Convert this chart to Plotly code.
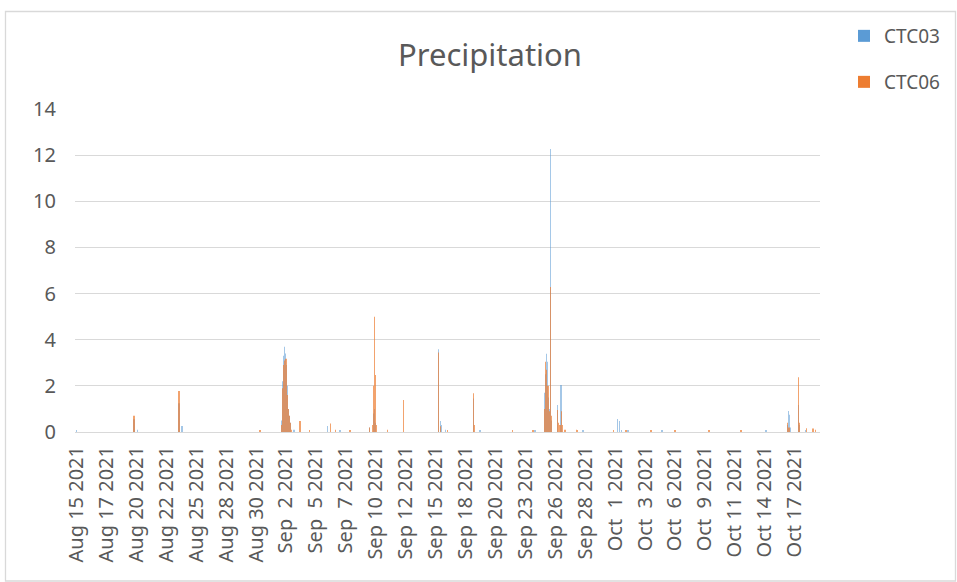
import pandas as pd
import plotly.graph_objects as go

# ---------------- data ----------------
tick_labels = ["Aug 15 2021", "Aug 17 2021", "Aug 20 2021", "Aug 22 2021", "Aug 25 2021",
               "Aug 28 2021", "Aug 30 2021", "Sep  2 2021", "Sep  5 2021", "Sep  7 2021",
               "Sep 10 2021", "Sep 12 2021", "Sep 15 2021", "Sep 18 2021", "Sep 20 2021",
               "Sep 23 2021", "Sep 26 2021", "Sep 28 2021", "Oct  1 2021", "Oct  3 2021",
               "Oct  6 2021", "Oct  9 2021", "Oct 11 2021", "Oct 14 2021", "Oct 17 2021"]

ctc03_time = [
    "2021-08-15 02:00", "2021-08-20 03:00", "2021-08-20 11:00", "2021-08-24 02:00", "2021-08-24 09:00",
    "2021-09-02 03:00", "2021-09-02 04:00", "2021-09-02 05:00", "2021-09-02 06:00", "2021-09-02 07:00",
    "2021-09-02 08:00", "2021-09-02 09:00", "2021-09-02 10:00", "2021-09-02 11:00", "2021-09-02 12:00",
    "2021-09-02 13:00", "2021-09-02 14:00", "2021-09-02 15:00", "2021-09-02 16:00", "2021-09-02 17:00",
    "2021-09-02 18:00", "2021-09-02 19:00", "2021-09-02 20:00", "2021-09-02 21:00", "2021-09-02 22:00",
    "2021-09-03 05:00", "2021-09-06 04:00", "2021-09-07 06:00", "2021-09-09 20:00",
    "2021-09-10 04:00", "2021-09-10 05:00", "2021-09-10 06:00", "2021-09-10 07:00", "2021-09-10 08:00",
    "2021-09-10 09:00", "2021-09-15 21:00", "2021-09-16 02:00", "2021-09-16 03:00", "2021-09-16 12:00",
    "2021-09-18 23:00", "2021-09-19 13:00", "2021-09-24 09:00",
    "2021-09-25 05:00", "2021-09-25 06:00", "2021-09-25 07:00", "2021-09-25 08:00", "2021-09-25 09:00",
    "2021-09-25 10:00", "2021-09-25 11:00", "2021-09-25 12:00", "2021-09-25 13:00", "2021-09-25 14:00",
    "2021-09-25 15:00", "2021-09-25 17:00", "2021-09-25 18:00", "2021-09-25 19:00",
    "2021-09-26 08:00", "2021-09-26 09:00", "2021-09-26 16:00", "2021-09-26 17:00",
    "2021-09-28 14:00", "2021-10-01 15:00", "2021-10-01 19:00", "2021-10-02 00:00", "2021-10-02 13:00",
    "2021-10-05 13:00", "2021-10-14 16:00", "2021-10-16 13:00", "2021-10-16 15:00", "2021-10-16 17:00",
    "2021-10-16 20:00", "2021-10-17 13:00", "2021-10-17 14:00", "2021-10-18 04:00",
]
ctc03_mm = [
    0.08, 0.55, 0.10, 1.25, 0.26,
    0.5, 0.9, 1.5, 2.2, 3.0,
    3.3, 3.7, 3.4, 3.2, 2.9,
    2.8, 2.0, 1.2, 1.0, 0.9,
    0.7, 0.6, 0.4, 0.2, 0.1,
    0.10, 0.26, 0.05, 0.20,
    0.6, 0.8, 1.0, 0.6, 0.4,
    0.1, 3.59, 0.48, 0.30, 0.10,
    1.45, 0.05, 0.05,
    0.4, 1.7, 2.5, 1.2, 3.39,
    2.0, 3.05, 1.5, 1.2, 0.8,
    1.0, 0.5, 12.27, 0.5,
    1.17, 0.5, 2.04, 0.6,
    0.05, 0.56, 0.48, 0.08, 0.08,
    0.05, 0.05, 0.30, 0.91, 0.75,
    0.20, 1.17, 0.30, 0.05,
]

ctc06_time = [
    "2021-08-20 03:00", "2021-08-24 02:00", "2021-08-24 03:00", "2021-08-31 05:00",
    "2021-09-02 03:00", "2021-09-02 04:00", "2021-09-02 05:00", "2021-09-02 06:00", "2021-09-02 07:00",
    "2021-09-02 08:00", "2021-09-02 09:00", "2021-09-02 10:00", "2021-09-02 11:00", "2021-09-02 12:00",
    "2021-09-02 13:00", "2021-09-02 14:00", "2021-09-02 15:00", "2021-09-02 16:00", "2021-09-02 17:00",
    "2021-09-02 18:00", "2021-09-02 19:00", "2021-09-02 20:00", "2021-09-02 21:00", "2021-09-02 22:00",
    "2021-09-02 23:00",
    "2021-09-03 17:00", "2021-09-04 13:00", "2021-09-06 10:00", "2021-09-06 20:00", "2021-09-08 03:00",
    "2021-09-09 20:00",
    "2021-09-10 03:00", "2021-09-10 04:00", "2021-09-10 05:00", "2021-09-10 06:00", "2021-09-10 07:00",
    "2021-09-10 08:00", "2021-09-10 09:00", "2021-09-10 10:00",
    "2021-09-11 10:00", "2021-09-12 20:00", "2021-09-15 21:00", "2021-09-16 02:00", "2021-09-16 16:00",
    "2021-09-18 23:00", "2021-09-19 00:00", "2021-09-22 10:00", "2021-09-24 05:00",
    "2021-09-25 05:00", "2021-09-25 06:00", "2021-09-25 07:00", "2021-09-25 08:00", "2021-09-25 09:00",
    "2021-09-25 10:00", "2021-09-25 11:00", "2021-09-25 12:00", "2021-09-25 13:00", "2021-09-25 14:00",
    "2021-09-25 15:00", "2021-09-25 16:00", "2021-09-25 17:00", "2021-09-25 18:00", "2021-09-25 19:00",
    "2021-09-25 20:00",
    "2021-09-26 08:00", "2021-09-26 09:00", "2021-09-26 11:00", "2021-09-26 14:00", "2021-09-26 17:00",
    "2021-09-26 18:00", "2021-09-27 00:00", "2021-09-28 01:00", "2021-09-28 03:00",
    "2021-10-01 06:00", "2021-10-02 09:00", "2021-10-04 14:00", "2021-10-06 16:00", "2021-10-09 16:00",
    "2021-10-12 11:00", "2021-10-16 13:00", "2021-10-16 14:00", "2021-10-16 17:00",
    "2021-10-17 13:00", "2021-10-17 14:00", "2021-10-18 06:00", "2021-10-18 19:00", "2021-10-19 01:00",
]
ctc06_mm = [
    0.70, 1.78, 0.30, 0.05,
    0.3, 0.6, 1.0, 1.9, 2.8,
    2.9, 3.0, 3.1, 3.0, 3.17,
    2.6, 1.6, 1.3, 1.0, 0.8,
    0.7, 0.5, 0.4, 0.3, 0.2,
    0.1,
    0.48, 0.05, 0.37, 0.10, 0.05,
    0.19,
    0.3, 1.1, 2.0, 5.0, 3.44,
    2.47, 0.9, 0.3,
    0.10, 1.39, 3.45, 0.25, 0.08,
    1.68, 0.30, 0.05, 0.05,
    0.3, 1.0, 3.05, 2.0, 2.7,
    1.5, 2.0, 1.8, 2.0, 1.2,
    0.8, 0.6, 0.9, 6.28, 0.7,
    0.2,
    0.95, 0.6, 0.4, 0.3, 0.9,
    0.3, 0.10, 0.10, 0.08,
    0.05, 0.08, 0.05, 0.05, 0.05,
    0.05, 0.40, 0.20, 0.20,
    2.37, 0.40, 0.16, 0.15, 0.10,
]

# ---------------- figure ----------------
W, H = 957, 582
ML, MR, MT, MB = 75, 137, 109, 150
PW, PH = W - ML - MR, H - MT - MB

start = pd.Timestamp("2021-08-15 00:00")
x_lo = start - pd.Timedelta(hours=1.05)
x_hi = start + pd.Timedelta(hours=1570)
tick_step_h = 63.1
tickvals = [start + pd.Timedelta(hours=2.1 + k * tick_step_h) for k in range(len(tick_labels))]

TXT = "#595959"
GRID = "#d9d9d9"
FONT = "Noto Sans"
BLUE = "#5B9BD5"
ORANGE = "#ED7D31"

fig = go.Figure()
fig.add_trace(go.Bar(
    x=pd.to_datetime(ctc03_time), y=ctc03_mm, name="CTC03",
    marker=dict(color=BLUE, line=dict(width=0)), opacity=0.55,
    width=3600000 * 0.9, showlegend=False,
))
fig.add_trace(go.Bar(
    x=pd.to_datetime(ctc06_time), y=ctc06_mm, name="CTC06",
    marker=dict(color=ORANGE, line=dict(width=0)), opacity=0.7,
    width=3600000 * 0.9, showlegend=False,
))
# legend entries in full colour (square keys)
fig.add_trace(go.Scatter(x=[None], y=[None], name="CTC03", mode="markers",
                         marker=dict(color=BLUE, symbol="square", size=12),
                         legend="legend", hoverinfo="skip"))
fig.add_trace(go.Scatter(x=[None], y=[None], name="CTC06", mode="markers",
                         marker=dict(color=ORANGE, symbol="square", size=12),
                         legend="legend2", hoverinfo="skip"))

def px_x(p):
    return (p - ML) / PW

def px_y(p):
    return (H - MB - p) / PH

fig.update_layout(
    width=W, height=H,
    margin=dict(l=ML, r=MR, t=MT, b=MB, pad=0),
    paper_bgcolor="white", plot_bgcolor="white",
    barmode="overlay",
    font=dict(family=FONT, color=TXT, size=19),
    title=dict(text="Precipitation", x=490 / W, xref="container", xanchor="center",
               y=1 - 55 / H, yref="container", yanchor="middle",
               font=dict(family=FONT, size=31, color=TXT)),
    showlegend=True,
    legend=dict(x=px_x(844), y=px_y(36), xanchor="left", yanchor="middle",
                font=dict(family=FONT, size=19, color=TXT), bgcolor="rgba(0,0,0,0)"),
    legend2=dict(x=px_x(844), y=px_y(82), xanchor="left", yanchor="middle",
                 font=dict(family=FONT, size=19, color=TXT), bgcolor="rgba(0,0,0,0)"),
    xaxis=dict(type="date", range=[x_lo, x_hi], tickvals=tickvals, ticktext=tick_labels,
               tickangle=-90, showgrid=False, showline=False, zeroline=False, ticks="",
               tickfont=dict(family=FONT, size=20, color=TXT), ticklabelstandoff=9,
               fixedrange=True),
    yaxis=dict(range=[0, 14], dtick=2, tick0=0, showgrid=True, gridcolor=GRID, gridwidth=1.3,
               zeroline=True, zerolinecolor=GRID, zerolinewidth=1.3, showline=False, ticks="",
               tickfont=dict(family=FONT, size=20, color=TXT), ticklabelstandoff=18,
               fixedrange=True),
    shapes=[dict(type="rect", xref="paper", yref="paper",
                 x0=px_x(5.5), x1=px_x(955.5), y0=px_y(581), y1=px_y(11.5),
                 line=dict(color=GRID, width=1.3), fillcolor="rgba(0,0,0,0)", layer="below")],
)

fig.write_html("out.html")
